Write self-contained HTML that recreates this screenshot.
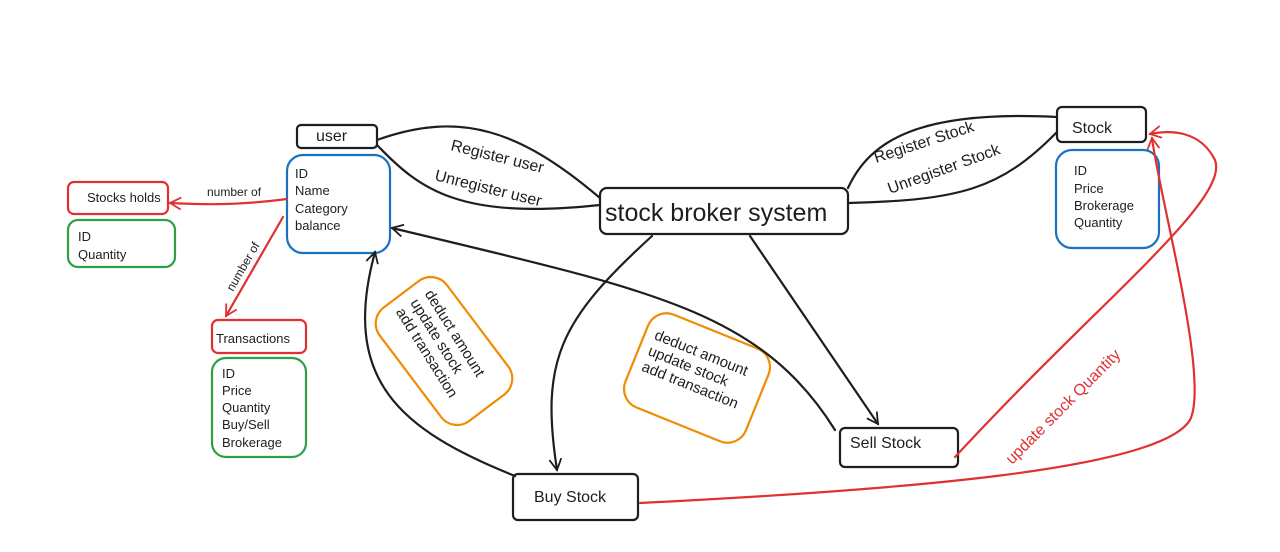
<!DOCTYPE html>
<html><head><meta charset="utf-8"><style>
html,body{margin:0;padding:0;background:#fff;}
svg{display:block;}
text{font-family:"Liberation Sans",sans-serif;fill:#1e1e1e;}
</style></head><body>
<svg width="1280" height="552" viewBox="0 0 1280 552" xmlns="http://www.w3.org/2000/svg">
<defs>
<marker id="ab" markerWidth="14" markerHeight="14" refX="12" refY="7" orient="auto" markerUnits="userSpaceOnUse"><path d="M1,1 L12,7 L1,13" fill="none" stroke="#1e1e1e" stroke-width="1.8"/></marker>
<marker id="ar" markerWidth="14" markerHeight="14" refX="12" refY="7" orient="auto" markerUnits="userSpaceOnUse"><path d="M1,1 L12,7 L1,13" fill="none" stroke="#e03131" stroke-width="1.8"/></marker>
</defs>
<g fill="none" stroke-width="2.2" stroke-linecap="round">
<rect x="297" y="125" width="80" height="23" rx="4" stroke="#1e1e1e"/>
<rect x="600" y="188" width="248" height="46" rx="7" stroke="#1e1e1e"/>
<rect x="1057" y="107" width="89" height="35" rx="5" stroke="#1e1e1e"/>
<rect x="840" y="428" width="118" height="39" rx="5" stroke="#1e1e1e"/>
<rect x="513" y="474" width="125" height="46" rx="5" stroke="#1e1e1e"/>
<rect x="287" y="155" width="103" height="98" rx="16" stroke="#1971c2"/>
<rect x="1056" y="150" width="103" height="98" rx="16" stroke="#1971c2"/>
<rect x="68" y="182" width="100" height="32" rx="6" stroke="#e03131"/>
<rect x="212" y="320" width="94" height="33" rx="6" stroke="#e03131"/>
<rect x="68" y="220" width="107" height="47" rx="10" stroke="#2f9e44"/>
<rect x="212" y="358" width="94" height="99" rx="14" stroke="#2f9e44"/>
<rect x="-71" y="-42" width="142" height="84" rx="20" stroke="#f08c00" transform="translate(444,351) rotate(53)"/>
<rect x="-65" y="-50" width="130" height="100" rx="20" stroke="#f08c00" transform="translate(697,378) rotate(22)"/>
<path d="M377,140 C460,110 520,130 600,198" stroke="#1e1e1e"/>
<path d="M377,145 C420,190 460,220 600,205" stroke="#1e1e1e"/>
<path d="M848,188 C870,140 920,110 1057,117" stroke="#1e1e1e"/>
<path d="M848,203 C960,200 1000,190 1057,132" stroke="#1e1e1e"/>
<path d="M652,236 C560,320 540,360 557,470" stroke="#1e1e1e" marker-end="url(#ab)"/>
<path d="M750,236 L878,424" stroke="#1e1e1e" marker-end="url(#ab)"/>
<path d="M835,430 C760,310 650,290 392,228" stroke="#1e1e1e" marker-end="url(#ab)"/>
<path d="M515,476 C400,430 340,380 375,252" stroke="#1e1e1e" marker-end="url(#ab)"/>
<path d="M287,199 C240,205 210,205 170,203" stroke="#e03131" marker-end="url(#ar)"/>
<path d="M283,217 L226,316" stroke="#e03131" marker-end="url(#ar)"/>
<path d="M955,457 C1100,300 1230,200 1215,160 C1200,130 1170,130 1150,134" stroke="#e03131" marker-end="url(#ar)"/>
<path d="M640,503 C900,490 1160,470 1190,420 C1210,380 1160,200 1152,138" stroke="#e03131" marker-end="url(#ar)"/>
</g>
<g font-size="13">
<text x="316" y="141" font-size="16">user</text>
<text x="605" y="221" font-size="25">stock broker system</text>
<text x="1072" y="133" font-size="16">Stock</text>
<text x="850" y="448" font-size="16">Sell Stock</text>
<text x="534" y="502" font-size="16">Buy Stock</text>
<text x="87" y="202">Stocks holds</text>
<text x="216" y="343">Transactions</text>
<text x="295" y="178">ID</text><text x="295" y="195">Name</text><text x="295" y="213">Category</text><text x="295" y="230">balance</text>
<text x="1074" y="175">ID</text><text x="1074" y="193">Price</text><text x="1074" y="210">Brokerage</text><text x="1074" y="227">Quantity</text>
<text x="78" y="241">ID</text><text x="78" y="259">Quantity</text>
<text x="222" y="378">ID</text><text x="222" y="395">Price</text><text x="222" y="412">Quantity</text><text x="222" y="429">Buy/Sell</text><text x="222" y="447">Brokerage</text>
<text x="207" y="196" font-size="12">number of</text>
<text transform="translate(233,292) rotate(-60)" font-size="12">number of</text>
<text transform="translate(450,150) rotate(14)" font-size="16">Register user</text>
<text transform="translate(434,180) rotate(14)" font-size="16">Unregister user</text>
<text transform="translate(876,163) rotate(-18)" font-size="16">Register Stock</text>
<text transform="translate(890,194) rotate(-20)" font-size="16">Unregister Stock</text>
<text transform="translate(1012,465) rotate(-45)" font-size="16" style="fill:#e03131">update stock Quantity</text>
<g transform="translate(446,351) rotate(58)" font-size="15">
<text x="-60" y="-12">deduct amount</text><text x="-60" y="5">update stock</text><text x="-60" y="22">add transaction</text>
</g>
<g transform="translate(697,378) rotate(22)" font-size="15">
<text x="-55" y="-20">deduct amount</text><text x="-55" y="-3">update stock</text><text x="-55" y="14">add transaction</text>
</g>
</g>
</svg>
</body></html>
